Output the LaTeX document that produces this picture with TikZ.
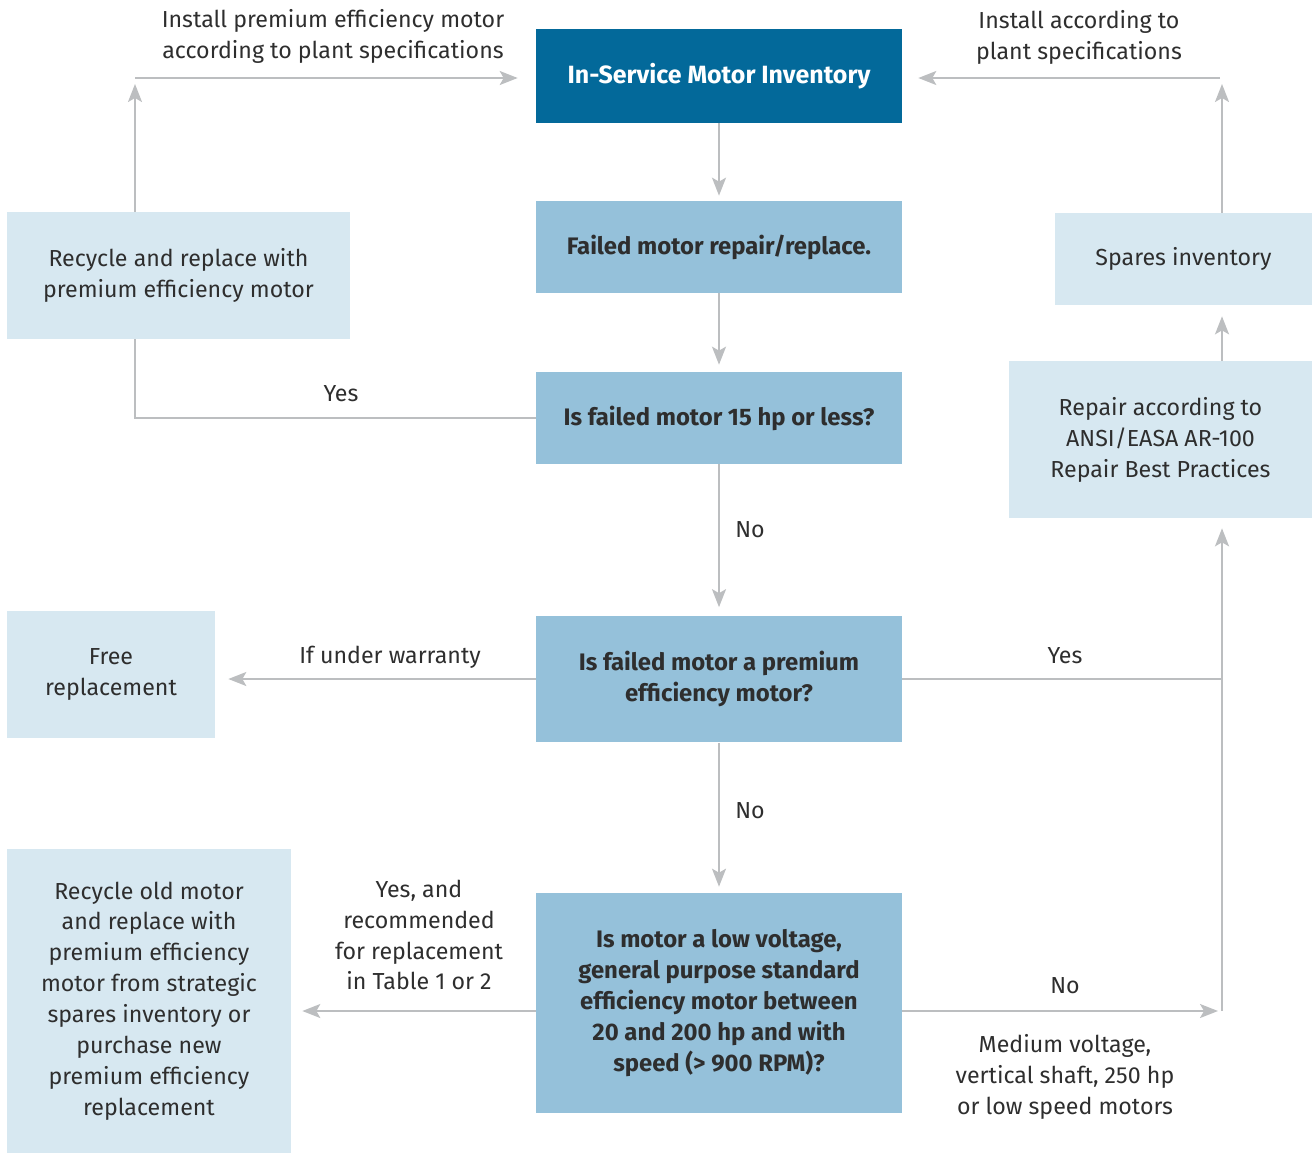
\documentclass[tikz,border=0pt]{standalone}
\usepackage{fontspec}
\setmainfont{Fira Sans}
\usetikzlibrary{arrows.meta, positioning}
\definecolor{invblue}{HTML}{03699A}
\definecolor{midblue}{HTML}{95C1DA}
\definecolor{paleblue}{HTML}{D7E8F1}
\definecolor{linegray}{HTML}{BCBEC0}
\definecolor{txtgray}{HTML}{2E2E2E}
\tikzstyle{topbox} = [rectangle, minimum width=7.32cm, minimum height=1.88cm, text centered, fill=invblue, text=white, font=\fontsize{14.2}{17.6}\selectfont\bfseries]
\tikzstyle{qbox} = [rectangle, minimum width=7.32cm, text centered, align=center, fill=midblue, text=txtgray, font=\fontsize{13.6}{17.6}\selectfont\bfseries]
\tikzstyle{sidebox} = [rectangle, text centered, align=center, fill=paleblue, text=txtgray, font=\fontsize{13.2}{17.6}\selectfont]
\tikzstyle{lbl} = [align=center, text=txtgray, font=\fontsize{13.2}{17.6}\selectfont]
\tikzstyle{conn} = [line width=1.1pt, draw=linegray]
\tikzstyle{arr} = [conn, -{Stealth[length=0.36cm, width=0.28cm, inset=0.08cm]}]

\begin{document}
\begin{tikzpicture}[x=0.02cm, y=-0.02cm]
\useasboundingbox (0,0) rectangle (1312,1153);

\node (inv) [topbox] at (719,76) {In-Service Motor Inventory};
\node (failed) [qbox, minimum height=1.84cm] at (719,247) {Failed motor repair/replace.};
\node (q15) [qbox, minimum height=1.84cm] at (719,418) {Is failed motor 15 hp or less?};
\node (qprem) [qbox, minimum height=2.54cm] at (719,679) {Is failed motor a premium\\efficiency motor?};
\node (qlow) [qbox, minimum height=4.4cm] at (719,1003) {Is motor a low voltage,\\general purpose standard\\efficiency motor between\\20 and 200 hp and with\\speed (> 900 RPM)?};

\node (rec1) [sidebox, minimum width=6.86cm, minimum height=2.54cm] at (178.5,275.5) {Recycle and replace with\\premium efficiency motor};
\node (spares) [sidebox, minimum width=5.14cm, minimum height=1.84cm] at (1183.5,259) {Spares inventory};
\node (repair) [sidebox, minimum width=6.06cm, minimum height=3.14cm] at (1160.5,439.5) {Repair according to\\ANSI/EASA AR-100\\Repair Best Practices};
\node (free) [sidebox, minimum width=4.16cm, minimum height=2.54cm] at (111,674.5) {Free\\replacement};
\node (rec2) [sidebox, minimum width=5.68cm, minimum height=6.08cm] at (149,1001) {Recycle old motor\\and replace with\\premium efficiency\\motor from strategic\\spares inventory or\\purchase new\\premium efficiency\\replacement};

% labels
\node (instL) [lbl] at (333,36) {Install premium efficiency motor\\according to plant specifications};
\node (instR) [lbl] at (1079,37) {Install according to\\plant specifications};
\node (yes15) [lbl] at (341,394) {Yes};
\node (no15) [lbl] at (750,530) {No};
\node (noprem) [lbl] at (750,811) {No};
\node (warr) [lbl] at (390,657) {If under warranty};
\node (yesprem) [lbl] at (1065,656) {Yes};
\node (nolow) [lbl] at (1065,986) {No};
\node (medium) [lbl] at (1065,1077) {Medium voltage,\\vertical shaft, 250 hp\\or low speed motors};
\node (yeslow) [lbl] at (419,935) {Yes, and\\recommended\\for replacement\\in Table 1 or 2};

\coordinate (cornerL) at (135,418);
\coordinate (upL) at (135,84);
\coordinate (topL) at (135,78);
\coordinate (upR) at (1222,84);
\coordinate (topR) at (1220,78);
\coordinate (railR) at (1222,679);
\coordinate (footR) at (1222,1011);

% main column
\draw[arr, shorten >=0.1cm] (inv.south) -- (failed.north);
\draw[arr, shorten >=0.14cm] (failed.south) -- (q15.north);
\draw[arr, shorten >=0.16cm] (q15.south) -- (qprem.north);
\draw[arr, shorten >=0.12cm] (qprem.south) -- (qlow.north);

% left side
\draw[conn] (q15.west) -| (cornerL |- rec1.south);
\draw[arr] (upL |- rec1.north) -- (upL);
\draw[arr, shorten >=0.36cm] (topL) -- (inv.west |- topL);
\draw[arr, shorten >=0.26cm] (qprem.west) -- (free.east |- qprem.west);
\draw[arr, shorten >=0.22cm] (qlow.west |- footR) -- (rec2.east |- footR);

% right side
\draw[arr] (upR |- spares.north) -- (upR);
\draw[arr, shorten >=0.32cm] (topR) -- (inv.east |- topR);
\draw[arr, shorten >=0.22cm] (railR |- repair.north) -- (railR |- spares.south);
\draw[conn] (qprem.east) -- (railR);
\draw[arr, shorten >=0.2cm] (footR) -- (railR |- repair.south);
\draw[arr, shorten >=0.08cm] (qlow.east |- footR) -- (footR);

\end{tikzpicture}
\end{document}
